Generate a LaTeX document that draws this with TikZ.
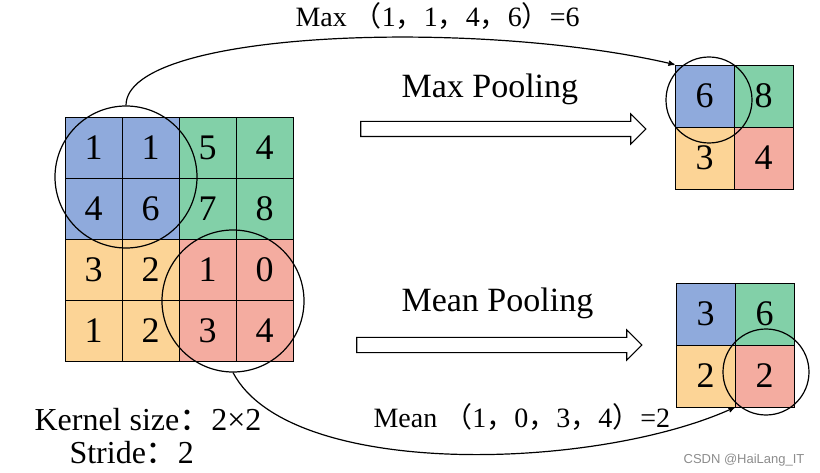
\documentclass[tikz,border=0pt]{standalone}
\usepackage{fontspec}
\setmainfont{Liberation Serif}
\setsansfont{Liberation Sans}
\newfontfamily\cjk{Noto Sans CJK SC}
\usetikzlibrary{arrows,shapes.arrows,positioning}

\definecolor{poolblue}{RGB}{143,170,220}
\definecolor{poolgreen}{RGB}{130,208,168}
\definecolor{poolorange}{RGB}{252,212,150}
\definecolor{poolred}{RGB}{244,172,160}

\newcommand{\lpar}{{\cjk （}}
\newcommand{\rpar}{{\cjk ）}}
\newcommand{\fwcomma}{{\cjk ，}}
\newcommand{\fwcolon}{{\cjk ：}}

\begin{document}
\begin{tikzpicture}[x=1pt,y=-1pt,>=stealth',node distance=57pt,
	cell/.style={draw,line width=0.9pt,minimum width=57pt,minimum height=61pt,inner sep=0pt,font=\fontsize{36}{36}\selectfont},
	small/.style={cell,minimum width=59pt,minimum height=62pt},
	window/.style={draw,circle,line width=1.2pt,inner sep=0pt},
	hollow/.style={single arrow,draw,line width=1.1pt,inner sep=7pt,single arrow head extend=7.5pt,minimum height=285pt},
	label/.style={anchor=base west,font=\fontsize{28}{28}\selectfont}]

\useasboundingbox (0,0) rectangle (820,473);

% input feature map
\node[cell,fill=poolblue]   (a11) at (93.5,147.5) {1};
 \node[cell,fill=poolblue]   (a12) [right of=a11] {1};
 \node[cell,fill=poolgreen]  (a13) [right of=a12] {5};
 \node[cell,fill=poolgreen]  (a14) [right of=a13] {4};
\node[cell,fill=poolblue]   (a21) at (93.5,208.5) {4};
 \node[cell,fill=poolblue]   (a22) [right of=a21] {6};
 \node[cell,fill=poolgreen]  (a23) [right of=a22] {7};
 \node[cell,fill=poolgreen]  (a24) [right of=a23] {8};
\node[cell,fill=poolorange] (a31) at (93.5,269.5) {3};
 \node[cell,fill=poolorange] (a32) [right of=a31] {2};
 \node[cell,fill=poolred]    (a33) [right of=a32] {1};
 \node[cell,fill=poolred]    (a34) [right of=a33] {0};
\node[cell,fill=poolorange] (a41) at (93.5,330.5) {1};
 \node[cell,fill=poolorange] (a42) [right of=a41] {2};
 \node[cell,fill=poolred]    (a43) [right of=a42] {3};
 \node[cell,fill=poolred]    (a44) [right of=a43] {4};

% max pooling result
\node[small,fill=poolblue]   (m11) at (704.5,96) {6};
 \node[small,fill=poolgreen]  (m12) [right of=m11,node distance=59pt] {8};
\node[small,fill=poolorange] (m21) at (704.5,158) {3};
 \node[small,fill=poolred]    (m22) [right of=m21,node distance=59pt] {4};

% mean pooling result
\node[small,fill=poolblue]   (e11) at (705.5,314) {3};
 \node[small,fill=poolgreen]  (e12) [right of=e11,node distance=59pt] {6};
\node[small,fill=poolorange] (e21) at (705.5,376) {2};
 \node[small,fill=poolred]    (e22) [right of=e21,node distance=59pt] {2};

% kernel windows
\node[window,minimum size=142pt] (win1) at (126,177) {};
\node[window,minimum size=142pt] (win2) at (233,301) {};
\node[window,minimum size=86pt]  (win3) at (709,100) {};
\node[window,minimum size=86pt]  (win4) at (766,372) {};

% hollow arrows
\node[hollow] (maxarrow)  at (499.5,129) {};
\node[hollow] (meanarrow) at (495.5,345) {};

\node[anchor=base west,font=\fontsize{34}{34}\selectfont] (maxname)  at (398,98)  {Max Pooling};
\node[anchor=base west,font=\fontsize{34}{34}\selectfont] (meanname) at (398,312) {Mean Pooling};

\node[label] (maxcalc)  at (292,27)  {Max \lpar 1\fwcomma 1\fwcomma 4\fwcomma 6\rpar=6};
\node[label] (meancalc) at (370,427) {Mean \lpar 1\fwcomma 0\fwcomma 3\fwcomma 4\rpar=2};

\node[label,font=\fontsize{32}{32}\selectfont] (kernel) at (31,430) {Kernel size\fwcolon 2×2};
\node[label,font=\fontsize{32}{32}\selectfont] (stride) at (66,463) {Stride\fwcolon 2};

\node[anchor=base east,font=\sffamily\fontsize{13}{13}\selectfont,text=black!45] (mark) at (808,463) {CSDN @HaiLang\_IT};

\draw[->,line width=1.2pt] (win1.north) .. controls +(0,-76) and +(-195,-46) .. (m11.north west);
\draw[->,line width=1.2pt] (win2.south) .. controls +(57,108) and +(-137,63) .. (e22.south west);

\end{tikzpicture}
\end{document}
